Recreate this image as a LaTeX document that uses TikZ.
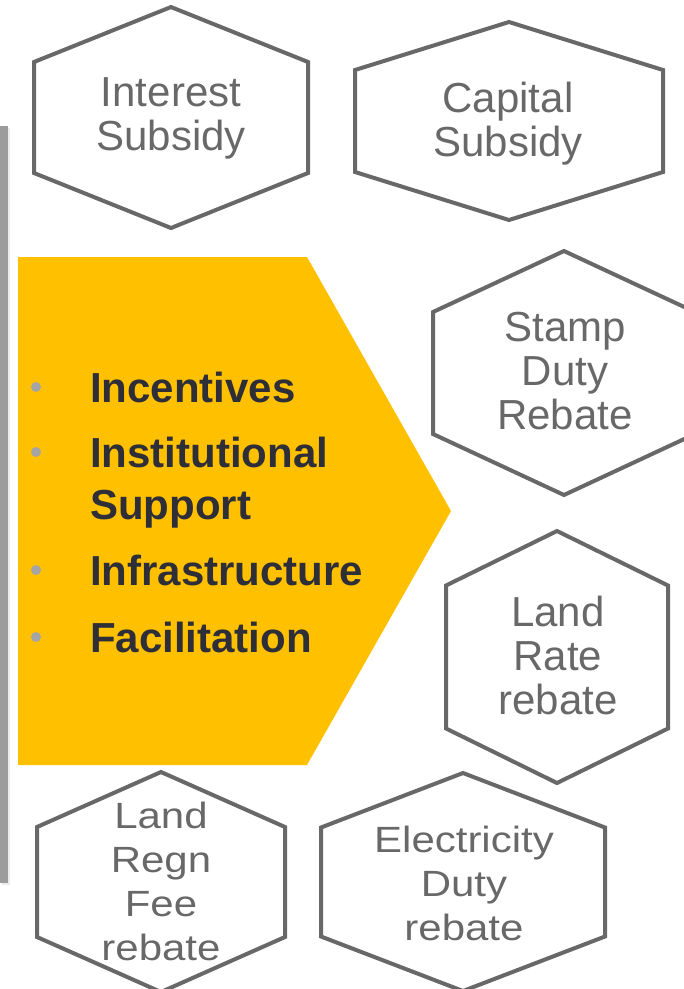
\documentclass[tikz,border=0pt]{standalone}
\usepackage{fontspec}
\setmainfont{Liberation Sans}
\newfontfamily\widefont[FakeStretch=1.15]{Liberation Sans}
\definecolor{hexgray}{HTML}{686868}
\definecolor{eyyellow}{HTML}{FFC000}
\definecolor{eydark}{HTML}{2E2E38}
\definecolor{dotgray}{HTML}{A5A5A5}
\definecolor{bargray}{HTML}{9C9C9C}

% centre x, centre y, half width, half height, half side
\newcommand{\hexagon}[5]{%
  \draw[hexline] (#1,#2-#4) -- (#1+#3,#2-#5) -- (#1+#3,#2+#5)
    -- (#1,#2+#4) -- (#1-#3,#2+#5) -- (#1-#3,#2-#5) -- cycle;}

\begin{document}
\begin{tikzpicture}[x=1pt,y=-1pt,
  hexline/.style={draw=hexgray,line width=4pt,line join=miter},
  hextext/.style={text=hexgray,align=center,inner sep=0pt,font=\fontsize{42}{44}\selectfont},
  lowtext/.style={hextext,font=\widefont\fontsize{36.5}{44}\selectfont},
  item/.style={anchor=base west,inner sep=0pt,text=eydark,font=\bfseries\fontsize{42}{42}\selectfont},
  dot/.style={circle,fill=dotgray,inner sep=0pt,minimum size=10pt}]
\useasboundingbox (0,0) rectangle (684,989);
\clip (0,0) rectangle (684,989);

\fill[black!8] (2,128) rectangle (10,885);
\fill[bargray] (0,126) rectangle (8,883);

\fill[eyyellow] (18,257) -- (307,257) -- (451,511) -- (307,765) -- (18,765) -- cycle;

\node[item] (inc) at (90,402) {Incentives};
\node[item] (inst) at (90,467) {Institutional};
\node[item] (supp) at (90,519) {Support};
\node[item] (infra) at (90,585) {Infrastructure};
\node[item] (facil) at (90,652) {Facilitation};
\node[dot] (b1) at (36,387) {};
\node[dot] (b2) at (36,452) {};
\node[dot] (b3) at (36,570) {};
\node[dot] (b4) at (36,637) {};

\hexagon{171}{117.5}{137}{110.5}{55.5}
\hexagon{509}{121}{154}{99}{51}
\hexagon{564}{373}{131}{122}{61}
\hexagon{557}{657}{111}{126}{71.5}
\hexagon{463}{882}{142}{109}{54.5}
\hexagon{161}{882}{124}{110}{55}

\node[hextext] (int) at (171,118.5) {Interest\\Subsidy};
\node[hextext] (cap) at (508,124) {Capital\\Subsidy};
\node[hextext] (stamp) at (565,371) {Stamp\\Duty\\Rebate};
\node[hextext] (lrate) at (558,655) {Land\\Rate\\rebate};
\node[lowtext] (elec) at (464,883) {Electricity\\Duty\\rebate};
\node[lowtext] (lregn) at (161,881) {Land\\Regn\\Fee\\rebate};
\end{tikzpicture}
\end{document}
